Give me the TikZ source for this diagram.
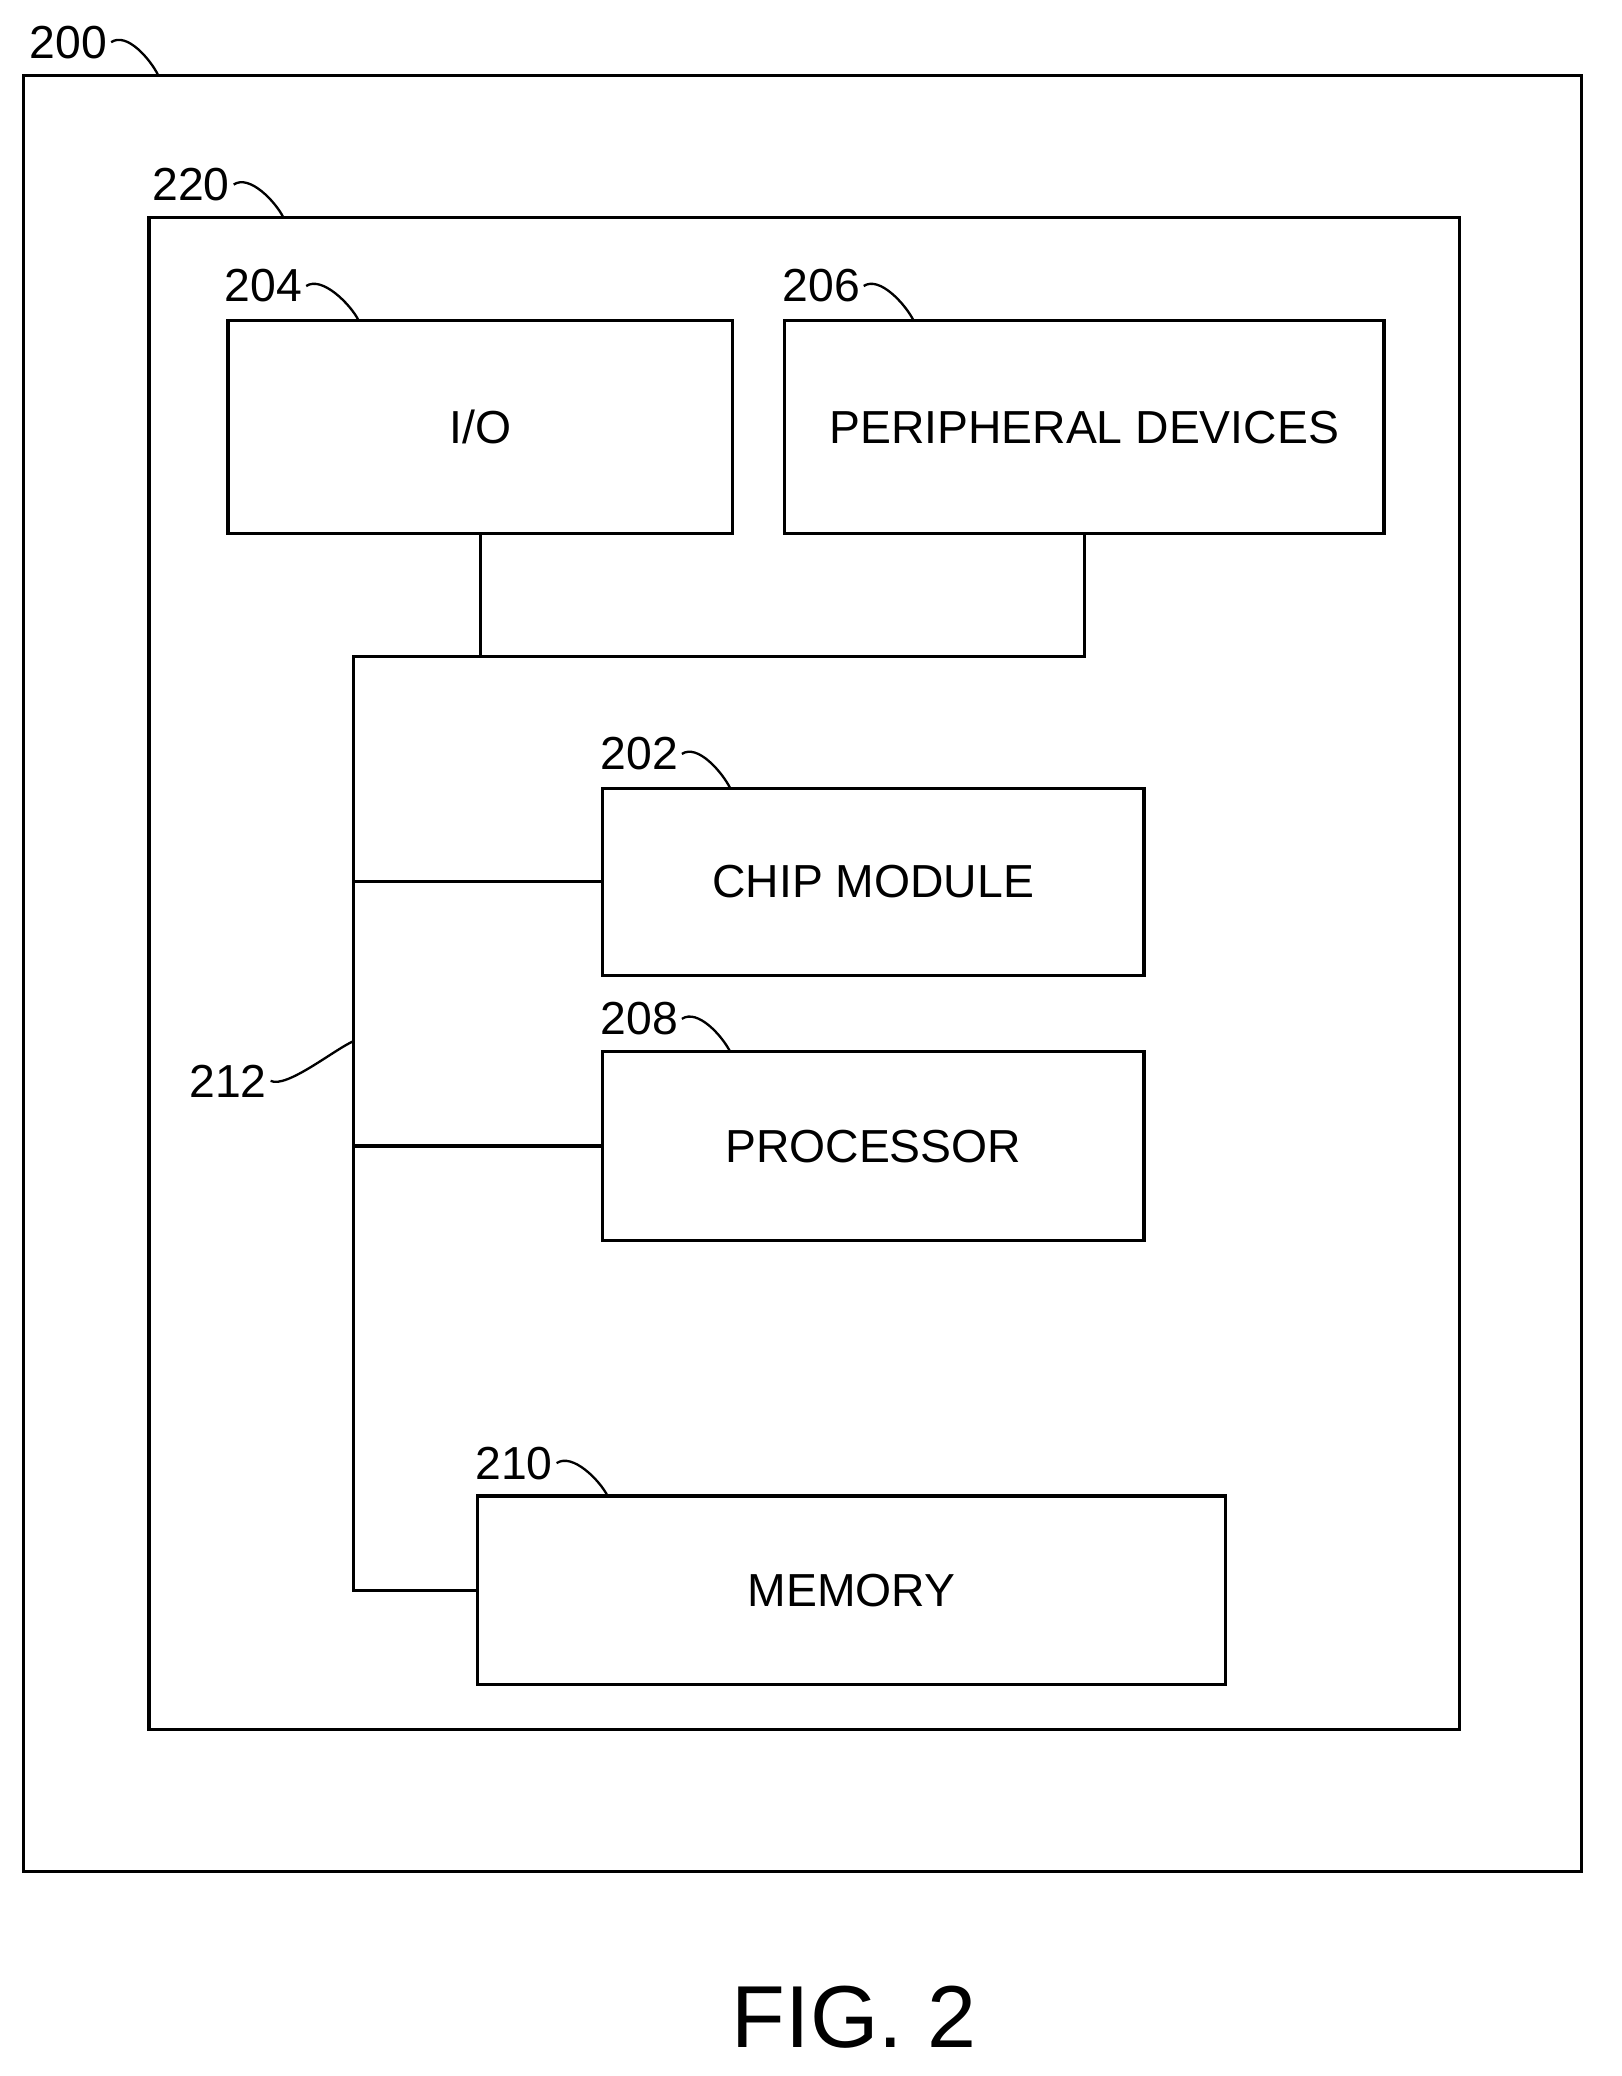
\documentclass[tikz,border=0pt]{standalone}
\usepackage{fontspec}
\setmainfont{Liberation Sans}
\begin{document}
\begin{tikzpicture}[x=0.02cm,y=-0.02cm,line width=1.4pt,
  box/.style={draw, rectangle, inner sep=0pt, font=\fontsize{20}{24}\selectfont},
  num/.style={font=\fontsize{20}{24}\selectfont, inner sep=1pt},
  lead/.style={line width=1pt}]
\useasboundingbox (0,0) rectangle (1230,1575);
% frames
\draw (18,57) rectangle (1200,1420);
\draw (113,165) rectangle (1107,1312);
% blocks
\node[box, minimum width=7.66cm, minimum height=3.24cm] (io) at (364.5,324) {I/O};
\node[box, minimum width=9.1cm, minimum height=3.24cm] (per) at (822.5,324) {PERIPHERAL DEVICES};
\node[box, minimum width=8.22cm, minimum height=2.84cm] (chip) at (662.5,669) {CHIP MODULE};
\node[box, minimum width=8.22cm, minimum height=2.86cm] (proc) at (662.5,869.5) {PROCESSOR};
\node[box, minimum width=11.36cm, minimum height=2.86cm] (mem) at (646,1206.5) {MEMORY};
% bus
\coordinate (top) at (268,498);
\draw (io.south) -- (io.south |- top);
\draw (per.south) -- (per.south |- top) -- (top) -- (top |- mem.west) -- (mem.west);
\draw (top |- chip.west) -- (chip.west);
\draw (top |- proc.west) -- (proc.west);
% reference numerals
\node[num] (n200) at (52,32) {200};
\node[num] (n220) at (145,140) {220};
\node[num] (n204) at (200,217) {204};
\node[num] (n206) at (623,217) {206};
\node[num] (n202) at (485,572) {202};
\node[num] (n208) at (485,773) {208};
\node[num] (n210) at (390,1110) {210};
\node[num] (n212) at (173,820) {212};
\draw[lead] (n200.east) .. controls +(12,-8) and +(-6,-12) .. (120,57);
\draw[lead] (n220.east) .. controls +(12,-8) and +(-6,-12) .. (215,165);
\draw[lead] (n204.east) .. controls +(12,-8) and +(-6,-12) .. (272,243);
\draw[lead] (n206.east) .. controls +(12,-8) and +(-6,-12) .. (693,243);
\draw[lead] (n202.east) .. controls +(12,-8) and +(-6,-12) .. (554,598);
\draw[lead] (n208.east) .. controls +(12,-8) and +(-6,-12) .. (554,798);
\draw[lead] (n210.east) .. controls +(12,-8) and +(-6,-12) .. (461,1135);
\draw[lead] (n212.east) .. controls +(12,6) and +(-14,6) .. (268,790);
\node[font=\fontsize{38}{44}\selectfont] (fig) at (648,1530) {FIG. 2};
\end{tikzpicture}
\end{document}
